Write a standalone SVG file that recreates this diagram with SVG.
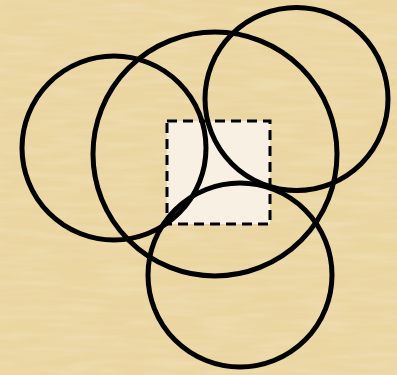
<svg xmlns="http://www.w3.org/2000/svg" width="397" height="375" viewBox="0 0 397 375">
  <defs>
    <filter id="paper" x="0" y="0" width="100%" height="100%">
      <feTurbulence type="fractalNoise" baseFrequency="0.02 0.15" numOctaves="2" seed="3" result="n"/>
      <feColorMatrix in="n" type="matrix" values="0 0 0 0 0.93  0 0 0 0 0.84  0 0 0 0 0.64  0 0 0 -0.9 0.55" result="c"/>
      <feComposite in="c" in2="SourceGraphic" operator="over"/>
    </filter>
    <style>
      .circle { fill: none; stroke: #000; stroke-width: 5; }
      .box { fill: #f8f1e3; stroke: #000; stroke-width: 3; stroke-dasharray: 10 6; }
    </style>
  </defs>
  <rect x="0" y="0" width="397" height="375" fill="#efdba9"/>
  <rect x="0" y="0" width="397" height="375" fill="#e8d29c" filter="url(#paper)" opacity="0.5"/>
  <g id="square">
    <rect class="box" x="167" y="121" width="103" height="103"/>
  </g>
  <g id="connectors"></g>
  <g id="circle-left">
    <circle class="circle" cx="114" cy="148" r="92"/>
  </g>
  <g id="circle-big">
    <circle class="circle" cx="215" cy="154" r="122"/>
  </g>
  <g id="circle-topright">
    <circle class="circle" cx="296.5" cy="99" r="91.5"/>
  </g>
  <g id="circle-bottom">
    <circle class="circle" cx="240" cy="275" r="92"/>
  </g>
</svg>
